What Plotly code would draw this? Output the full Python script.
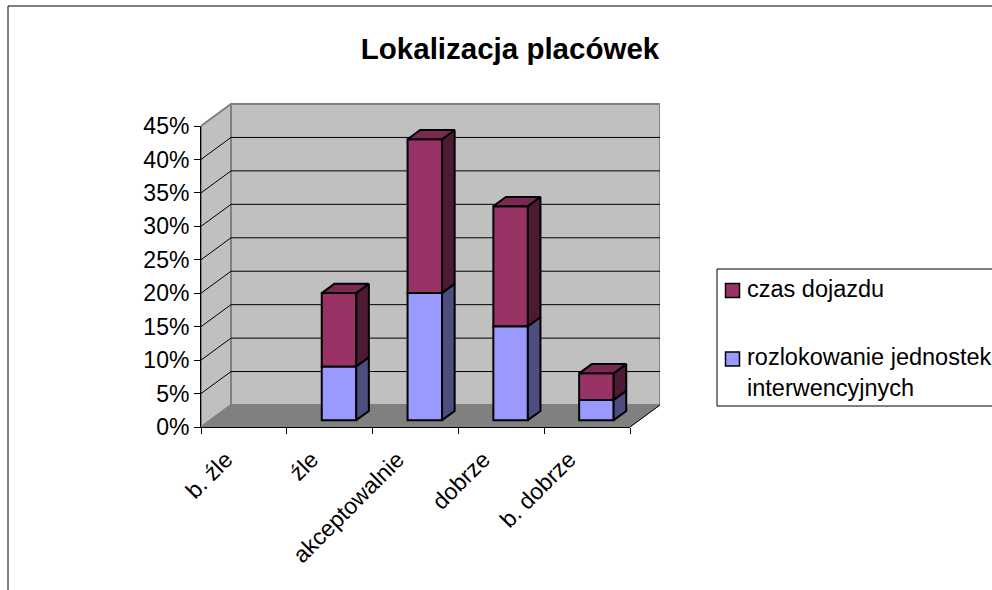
import plotly.graph_objects as go

categories = ["b. źle", "źle", "akceptowalnie", "dobrze", "b. dobrze"]
rozlokowanie = [0, 8, 19, 14, 3]
czas_dojazdu = [0, 11, 23, 18, 4]
y_ticks = [0, 5, 10, 15, 20, 25, 30, 35, 40, 45]
name_a = "rozlokowanie jednostek<br>interwencyjnych"
name_b = "czas dojazdu"
title = "Lokalizacja placówek"

W, H = 992, 590
FONT = "Liberation Sans"
# pixel frame of the axes
L, R_FRONT, R_BACK = 201, 630, 660
B, T_FRONT, T_BACK = 427, 126, 103
px_per_cat = (R_FRONT - L) / len(categories)
px_per_val = (B - T_FRONT) / 45
DX = (R_BACK - R_FRONT) / px_per_cat   # floor depth, category units
DY = (B - 405) / px_per_val            # floor depth, value units
x_max = -0.5 + (R_BACK - L) / px_per_cat
y_max = (B - T_BACK) / px_per_val
START, DEPTH = 0.31, 0.42              # bar position inside floor depth
BAR_W = 34.5 / px_per_cat
x0 = START * DX
y0 = START * DY
dx = DEPTH * DX
dy = DEPTH * DY
EDGE = "#000000"
colors = {"a": ("#9999FF", "#4D4D80", "#6F6FBA"), "b": ("#993366", "#4D1A33", "#7A2952")}


def line(xa, ya, xb, yb, color="#000000", width=1, layer="below"):
    return dict(type="line", xref="x", yref="y", x0=xa, y0=ya, x1=xb, y1=yb,
                line=dict(color=color, width=width), layer=layer)


def poly(pts, fill, color="#808080", width=1):
    d = "M" + "L".join(f"{a},{b}" for a, b in pts) + "Z"
    return dict(type="path", xref="x", yref="y", path=d, fillcolor=fill,
                line=dict(color=color, width=width), layer="below")


def swatch(px0, py0, px1, py1, fill):
    return dict(type="rect", xref="paper", yref="paper", x0=px0 / W, x1=px1 / W,
                y0=1 - py1 / H, y1=1 - py0 / H, fillcolor=fill,
                line=dict(color="#000000", width=1.5))


shapes = [
    # outer frame of the picture
    dict(type="line", xref="paper", yref="paper", x0=8 / W, x1=8 / W, y0=0, y1=1 - 6 / H,
         line=dict(color="#000000", width=1)),
    dict(type="line", xref="paper", yref="paper", x0=8 / W, x1=1, y0=1 - 6 / H, y1=1 - 6 / H,
         line=dict(color="#000000", width=1)),
    # legend frame and swatches
    dict(type="rect", xref="paper", yref="paper", x0=717 / W, x1=1.02, y0=1 - 406 / H, y1=1 - 269 / H,
         line=dict(color="#000000", width=1)),
    swatch(725.5, 283.5, 739.5, 297.5, colors["b"][0]),
    swatch(725.5, 352, 739.5, 366, colors["a"][0]),
    poly([(-0.5, 0), (-0.5 + DX, DY), (-0.5 + DX, 45 + DY), (-0.5, 45)], "#C0C0C0", width=2),
    poly([(-0.5 + DX, DY), (4.5 + DX, DY), (4.5 + DX, 45 + DY), (-0.5 + DX, 45 + DY)], "#C0C0C0", width=2),
    poly([(-0.5, 0), (4.5, 0), (4.5 + DX, DY), (-0.5 + DX, DY)], "#808080"),
    line(4.5, 0, 4.5 + DX, DY, "#000000", 1),
]
for v in y_ticks[1:-1]:
    shapes.append(line(-0.5, v, -0.5 + DX, v + DY))
    shapes.append(line(-0.5 + DX, v + DY, 4.5 + DX, v + DY))

fig = go.Figure()
xs = [i + x0 for i in range(len(categories))]
base_a = [y0] * len(categories)
base_b = [y0 + a for a in rozlokowanie]
show = [i for i in range(len(categories)) if rozlokowanie[i] + czas_dojazdu[i] > 0]

for key, nm, vals, bases in (("b", name_b, czas_dojazdu, base_b), ("a", name_a, rozlokowanie, base_a)):
    front, side, top = colors[key]
    fig.add_trace(go.Bar(
        x=[xs[i] for i in show], y=[vals[i] for i in show], base=[bases[i] for i in show],
        width=BAR_W, name=nm, xaxis="x", yaxis="y", showlegend=False,
        marker=dict(color=front, line=dict(color=EDGE, width=2)),
    ))
    for i in show:
        xr = xs[i] + BAR_W / 2
        xl = xs[i] - BAR_W / 2
        b, t = bases[i], bases[i] + vals[i]
        fig.add_trace(go.Scatter(
            x=[xr, xr + dx, xr + dx, xr, xr], y=[b, b + dy, t + dy, t, b],
            mode="lines", fill="toself", fillcolor=side, line=dict(color=EDGE, width=2),
            showlegend=False, hoverinfo="skip", xaxis="x", yaxis="y"))
        if key == "b":
            fig.add_trace(go.Scatter(
                x=[xl, xr, xr + dx, xl + dx, xl], y=[t, t, t + dy, t + dy, t],
                mode="lines", fill="toself", fillcolor=top, line=dict(color=EDGE, width=2),
                showlegend=False, hoverinfo="skip", xaxis="x", yaxis="y"))

# axis-only trace for the front category / value axes
fig.add_trace(go.Scatter(x=categories, y=[0] * 5, mode="markers", marker=dict(opacity=0),
                         showlegend=False, hoverinfo="skip", xaxis="x2", yaxis="y2"))

legend_text = [
    dict(text=name_b, xref="paper", yref="paper", x=745 / W, y=1 - 289 / H,
         xanchor="left", yanchor="middle", showarrow=False, align="left",
         font=dict(size=23.5, family=FONT, color="#000000")),
    dict(text=name_a, xref="paper", yref="paper", x=745 / W, y=1 - 372 / H,
         xanchor="left", yanchor="middle", showarrow=False, align="left",
         font=dict(size=23.5, family=FONT, color="#000000")),
]

fig.update_layout(
    width=W, height=H, margin=dict(l=0, r=0, t=0, b=0, autoexpand=False),
    paper_bgcolor="#FFFFFF", plot_bgcolor="rgba(0,0,0,0)",
    barmode="overlay", shapes=shapes, annotations=legend_text,
    font=dict(family=FONT, color="#000000", size=23),
    title=dict(text=f"<b>{title}</b>", x=510 / W, xanchor="center", xref="paper",
               y=1 - 49 / H, yanchor="middle", yref="paper",
               font=dict(family=FONT, size=29.5, color="#000000")),
    xaxis=dict(domain=[L / W, R_BACK / W], range=[-0.5, x_max], visible=False, fixedrange=True),
    yaxis=dict(domain=[1 - B / H, 1 - T_BACK / H], range=[0, y_max], visible=False, fixedrange=True),
    xaxis2=dict(domain=[L / W, R_FRONT / W], type="category", categoryorder="array",
                categoryarray=categories, range=[-0.5, 4.5], anchor="y2", tickson="boundaries",
                ticks="outside", ticklen=6, tickcolor="#000000", showline=True, linecolor="#000000",
                showgrid=False, tickangle=-45, tickfont=dict(size=23), zeroline=False,
                ticklabelshift=-18, ticklabelstandoff=9),
    yaxis2=dict(domain=[1 - B / H, 1 - T_FRONT / H], range=[0, 45], anchor="x2", tickvals=y_ticks,
                ticktext=[f"{v}%" for v in y_ticks], ticks="outside", ticklen=6, tickcolor="#000000",
                showline=True, linecolor="#000000", showgrid=False, zeroline=False,
                tickfont=dict(size=23)),
)
fig.write_html("out.html", config={"displayModeBar": False},
               post_script="document.body.style.margin='0';")
